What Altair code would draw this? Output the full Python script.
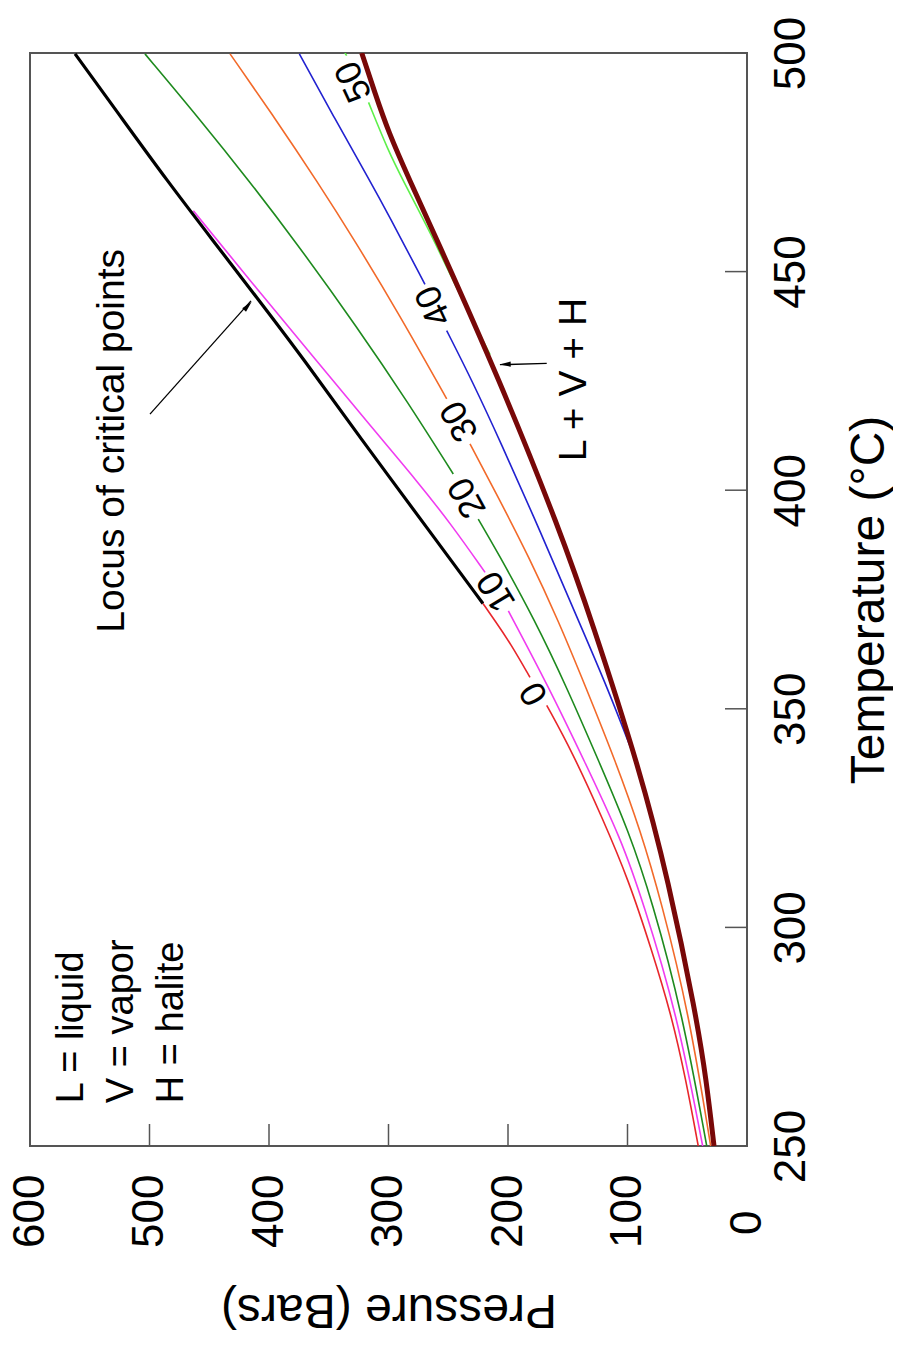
import altair as alt
import pandas as pd

FONT = "Liberation Sans"

# ---------------- curve data: temperature (°C) / pressure (bars) ----------------
# 0 wt% NaCl (boiling curve of water), broken at its "0" label
T_0_a = [250, 265, 280.3, 295, 310.8, 325, 340, 350.8]
P_0_a = [40.8, 51, 63.5, 80, 99.0, 121, 146, 167.6]
T_0_b = [357.2, 365, 370.2, 374.1]
P_0_b = [181.6, 198, 211, 221]

# 10 wt%
T_10_a = [250, 280.3, 306.2, 320, 338, 355, 372.4]
P_10_a = [37.1, 58.5, 87.5, 105, 136, 166, 199.7]
T_10_b = [381.2, 392, 402.2, 415, 429.6, 446, 463.9]
P_10_b = [219.2, 247, 276.4, 316, 360.1, 410, 463.3]

# 20 wt%
T_20_a = [250, 280.3, 306.2, 322, 338, 355, 370.2, 386.2, 393.4]
P_20_a = [33.7, 54, 79.5, 99, 124, 151, 177.4, 209.5, 224.9]
T_20_b = [403.7, 420, 437.2, 457, 470.7, 485, 499.8]
P_20_b = [245.8, 283.5, 326, 378.2, 416.5, 458.4, 503.8]

# 30 wt%
T_30_a = [250, 280.3, 306.2, 322, 338, 355, 370.2, 385, 397.6, 410.6]
P_30_a = [30.4, 48.5, 72, 89, 110, 135, 157.9, 183, 206.7, 231.8]
T_30_b = [420.9, 440, 457, 470.7, 485, 499.8]
P_30_b = [251.3, 290.6, 328, 359.9, 394.8, 432.6]

# 40 wt%
T_40_a = [337.5, 355, 370.2, 390, 411.3, 425, 436.5]
P_40_a = [92.3, 117, 141.2, 172, 206.7, 230, 251.3]
T_40_b = [447.1, 463.1, 470.7, 485, 499.8]
P_40_b = [269.5, 300.2, 315.5, 345, 374.6]

# 50 wt%
T_50_a = [431, 445, 459, 470.7, 477.6, 488.7]
P_50_a = [215, 241, 265, 287.6, 300.2, 316.7]
T_50_b = [499.4, 500]
P_50_b = [335, 336.5]

# locus of critical points
T_crit = [374.1, 390, 412.1, 430, 444.1, 457, 470.7, 485, 499.8]
P_crit = [221, 264, 324, 371, 410.3, 446.6, 485, 523, 562.3]

# L + V + H (halite saturated) curve
T_lvh = [250, 265, 280.3, 310.8, 335.9, 370.2, 390.8, 425, 459.3, 470.7, 482, 491, 500]
P_lvh = [27.6, 34.0, 42.8, 65.9, 89.5, 130, 156.5, 206.7, 262.8, 282, 300.2, 311.5, 322.4]

# isopleth labels
lab_text = ["0", "10", "20", "30", "40", "50"]
lab_T = [353.5, 376.9, 398.3, 415.8, 442.2, 493.5]
lab_P = [178, 209.5, 234, 240.5, 262, 329]
lab_angle = [239.5, 238.7, 241, 241, 245, 245]

# annotation texts
key_text = ["L = liquid", "V = vapor", "H = halite"]
key_T = [259.8, 259.8, 259.8]
key_P = [565.1, 523.3, 481.4]

# arrows: tail (T1, P1) -> head (T2, P2); arrow-head centre (Th, Ph), direction angle
arr_T1 = [417.4, 429.0]
arr_P1 = [499.6, 167.6]
arr_T2 = [443.3, 428.7]
arr_P2 = [415.1, 206.7]
arr_Th = [442.2, 428.8]
arr_Ph = [417.6, 202.5]
arr_ang = [42.4, 268.4]

# axis ticks
P_ticks = [0, 100, 200, 300, 400, 500, 600]
T_ticks = [250, 300, 350, 400, 450, 500]

# ---------------- build tables ----------------
segments = [
    ("0", "0a", T_0_a, P_0_a), ("0", "0b", T_0_b, P_0_b),
    ("10", "10a", T_10_a, P_10_a), ("10", "10b", T_10_b, P_10_b),
    ("20", "20a", T_20_a, P_20_a), ("20", "20b", T_20_b, P_20_b),
    ("30", "30a", T_30_a, P_30_a), ("30", "30b", T_30_b, P_30_b),
    ("40", "40a", T_40_a, P_40_a), ("40", "40b", T_40_b, P_40_b),
    ("50", "50a", T_50_a, P_50_a), ("50", "50b", T_50_b, P_50_b),
    ("crit", "crit", T_crit, P_crit),
    ("lvh", "lvh", T_lvh, P_lvh),
]
rows = []
for curve, key, ts, ps in segments:
    for i, (t, p) in enumerate(zip(ts, ps)):
        rows.append({"curve": curve, "key": key, "i": i, "T": t, "P": p})
df = pd.DataFrame(rows)

curve_dom = ["0", "10", "20", "30", "40", "50"]
curve_col = ["#e8262b", "#f03cf0", "#1e8a1e", "#f26a2a", "#2222d0", "#5ef04a"]

W, H = 717, 1093

x_enc = alt.X(
    "P:Q",
    scale=alt.Scale(domain=[0, 600], reverse=True, nice=False, zero=False),
    axis=alt.Axis(
        orient="bottom", values=P_ticks, format="d", title="Pressure (Bars)",
        domain=False, ticks=False, tickSize=0, grid=False,
        labelAngle=270, labelAlign="right", labelBaseline="middle",
        labelPadding={"condition": {"test": "datum.value == 0", "value": 64}, "value": 28},
        labelFont=FONT, labelFontSize=44, labelColor="black", labelFlush=False,
        labelOverlap=False, labelBound=False,
        titleFont=FONT, titleFontSize=48, titleFontWeight="normal", titleColor="black",
        titleAngle=180, titleX=W / 2, titleY=162, titleAlign="center", titleBaseline="middle",
    ),
)
y_enc = alt.Y(
    "T:Q",
    scale=alt.Scale(domain=[250, 500], nice=False, zero=False),
    axis=alt.Axis(
        orient="right", values=T_ticks, format="d", title="Temperature (°C)",
        domain=False, ticks=False, tickSize=0, grid=False,
        labelAngle=270, labelAlign="center", labelBaseline="top", labelPadding=22,
        labelFont=FONT, labelFontSize=44, labelColor="black", labelFlush=False,
        labelOverlap=False, labelBound=False,
        titleFont=FONT, titleFontSize=48, titleFontWeight="normal", titleColor="black",
        titleAngle=270, titleX=122, titleY=H / 2, titleAlign="center", titleBaseline="middle",
    ),
)

thin = alt.Chart(df[df["curve"].isin(curve_dom)]).mark_line(
    interpolate="basis", clip=True, strokeWidth=1.6
).encode(
    x=x_enc, y=y_enc,
    color=alt.Color("curve:N", scale=alt.Scale(domain=curve_dom, range=curve_col), legend=None),
    detail="key:N", order="i:Q",
)
crit = alt.Chart(df[df["curve"] == "crit"]).mark_line(
    interpolate="basis", clip=True, strokeWidth=3.2, color="#000000"
).encode(x=x_enc, y=y_enc, order="i:Q")
lvh = alt.Chart(df[df["curve"] == "lvh"]).mark_line(
    interpolate="basis", clip=True, strokeWidth=5, color="#780808"
).encode(x=x_enc, y=y_enc, order="i:Q")

labels = alt.Chart(pd.DataFrame({"T": lab_T, "P": lab_P, "text": lab_text, "ang": lab_angle})).mark_text(
    font=FONT, fontSize=36, align="center", baseline="middle", color="black"
).encode(x=x_enc, y=y_enc, text="text:N", angle=alt.Angle("ang:Q", scale=None))

key = alt.Chart(pd.DataFrame({"T": key_T, "P": key_P, "text": key_text})).mark_text(
    font=FONT, fontSize=38, align="left", baseline="middle", angle=270, color="black"
).encode(x=x_enc, y=y_enc, text="text:N")

note_lvh = alt.Chart(pd.DataFrame({"T": [425.3], "P": [145.1], "text": ["L + V + H"]})).mark_text(
    font=FONT, fontSize=39, align="center", baseline="middle", angle=270, color="black"
).encode(x=x_enc, y=y_enc, text="text:N")

note_crit = alt.Chart(pd.DataFrame({"T": [411.3], "P": [531.4], "text": ["Locus of critical points"]})).mark_text(
    font=FONT, fontSize=39, align="center", baseline="middle", angle=270, color="black"
).encode(x=x_enc, y=y_enc, text="text:N")

arr_df = pd.DataFrame({"T": arr_T1, "P": arr_P1, "T2": arr_T2, "P2": arr_P2})
arrows = alt.Chart(arr_df).mark_rule(color="black", strokeWidth=1.3).encode(
    x=x_enc, y=y_enc, x2="P2:Q", y2="T2:Q"
)
heads = alt.Chart(pd.DataFrame({"T": arr_Th, "P": arr_Ph, "ang": arr_ang})).mark_point(
    shape="M0,-1L0.45,1L-0.45,1Z", filled=True, color="black", opacity=1, size=130
).encode(x=x_enc, y=y_enc, angle=alt.Angle("ang:Q", scale=None))

tickP = alt.Chart(pd.DataFrame({"P": P_ticks})).mark_rule(color="#555555", strokeWidth=1.5).encode(
    x=x_enc, y=alt.value(H), y2=alt.value(H - 22)
)
tickT = alt.Chart(pd.DataFrame({"T": T_ticks})).mark_rule(color="#555555", strokeWidth=1.5).encode(
    y=y_enc, x=alt.value(W), x2=alt.value(W - 22)
)

chart = alt.layer(
    tickP, tickT, thin, crit, lvh, labels, key, note_lvh, note_crit, arrows, heads
).properties(
    width=W, height=H,
    autosize=alt.AutoSizeParams(type="none"),
    padding={"left": 22, "top": 45, "right": 146, "bottom": 190},
    background="white",
).configure_view(
    stroke="#555555", strokeWidth=2
)

chart.save("out.html", embed_options={"renderer": "svg", "actions": False})
